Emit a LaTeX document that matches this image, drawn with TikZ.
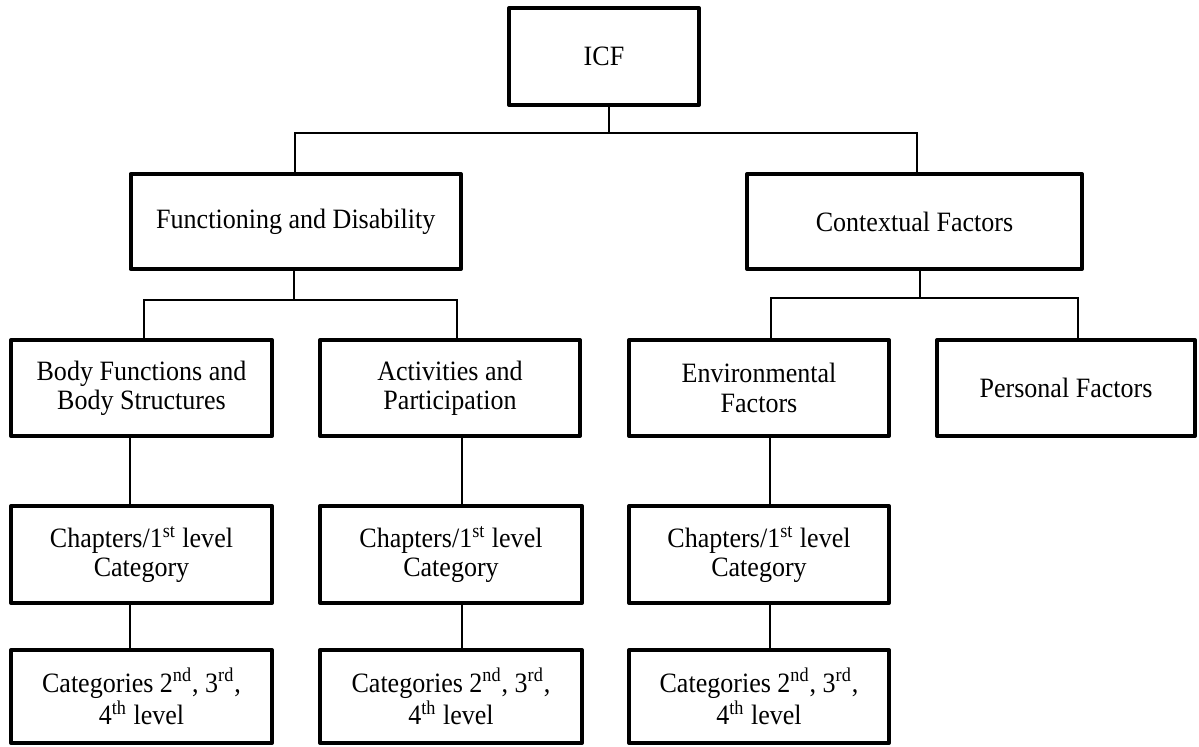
\documentclass[tikz,border=0pt]{standalone}
\usepackage{fontspec}
\setmainfont[FakeStretch=0.93]{Liberation Serif}
\begin{document}
\begin{tikzpicture}[x=0.5pt,y=-0.5pt,
  box/.style={draw, line width=2pt, line join=round, align=center, inner sep=0pt,
    font=\fontsize{14}{14.7}\selectfont},
  conn/.style={line width=0.6pt}]
\useasboundingbox (0,0) rectangle (1199,746);
% level 1
\node[box, minimum width=95pt, minimum height=48.5pt] (icf) at (604,56.5) {ICF};
% level 2
\node[box, minimum width=165.2pt, minimum height=47.5pt] (func) at (295.8,221.5) {Functioning and Disability};
\node[box, minimum width=167.5pt, minimum height=47.5pt] (ctx) at (914.5,221.5) {Contextual Factors};
% level 3
\node[box, minimum width=130.5pt, minimum height=48pt] (body) at (141.5,388) {Body Functions and\\Body Structures};
\node[box, minimum width=130pt, minimum height=48pt] (act) at (450,388) {Activities and\\Participation};
\node[box, minimum width=130pt, minimum height=48pt] (env) at (759,388) {Environmental\\Factors};
\node[box, minimum width=129pt, minimum height=48pt] (pers) at (1066,388) {Personal Factors};
% level 4
\node[box, minimum width=130.5pt, minimum height=48.5pt] (ch1) at (141.5,554.5) {Chapters/1\textsuperscript{st} level\\Category};
\node[box, minimum width=131pt, minimum height=48.5pt] (ch2) at (451,554.5) {Chapters/1\textsuperscript{st} level\\Category};
\node[box, minimum width=130pt, minimum height=48.5pt] (ch3) at (759,554.5) {Chapters/1\textsuperscript{st} level\\Category};
% level 5
\node[box, minimum width=130.5pt, minimum height=46.5pt] (cat1) at (141.5,696.5) {Categories 2\textsuperscript{nd}, 3\textsuperscript{rd},\\4\textsuperscript{th} level};
\node[box, minimum width=131pt, minimum height=46.5pt] (cat2) at (451,696.5) {Categories 2\textsuperscript{nd}, 3\textsuperscript{rd},\\4\textsuperscript{th} level};
\node[box, minimum width=130pt, minimum height=46.5pt] (cat3) at (759,696.5) {Categories 2\textsuperscript{nd}, 3\textsuperscript{rd},\\4\textsuperscript{th} level};
% connector junctions and x positions
\coordinate (t0) at (609,133);
\coordinate (t1) at (294,300);
\coordinate (t2) at (920,298);
\coordinate (xf) at (295,0);
\coordinate (xc) at (917,0);
\coordinate (xb) at (144,0);
\coordinate (xa) at (457,0);
\coordinate (xe) at (771,0);
\coordinate (xp) at (1078,0);
\coordinate (k1) at (130,0);
\coordinate (k2) at (462,0);
\coordinate (k3) at (770,0);
% connectors
\draw[conn] (icf.south -| t0) -- (t0);
\draw[conn] (func.north -| xf) |- (t0) -| (ctx.north -| xc);
\draw[conn] (func.south -| t1) -- (t1);
\draw[conn] (body.north -| xb) |- (t1) -| (act.north -| xa);
\draw[conn] (ctx.south -| t2) -- (t2);
\draw[conn] (env.north -| xe) |- (t2) -| (pers.north -| xp);
\draw[conn] (body.south -| k1) -- (ch1.north -| k1);
\draw[conn] (ch1.south -| k1) -- (cat1.north -| k1);
\draw[conn] (act.south -| k2) -- (ch2.north -| k2);
\draw[conn] (ch2.south -| k2) -- (cat2.north -| k2);
\draw[conn] (env.south -| k3) -- (ch3.north -| k3);
\draw[conn] (ch3.south -| k3) -- (cat3.north -| k3);
\end{tikzpicture}
\end{document}
